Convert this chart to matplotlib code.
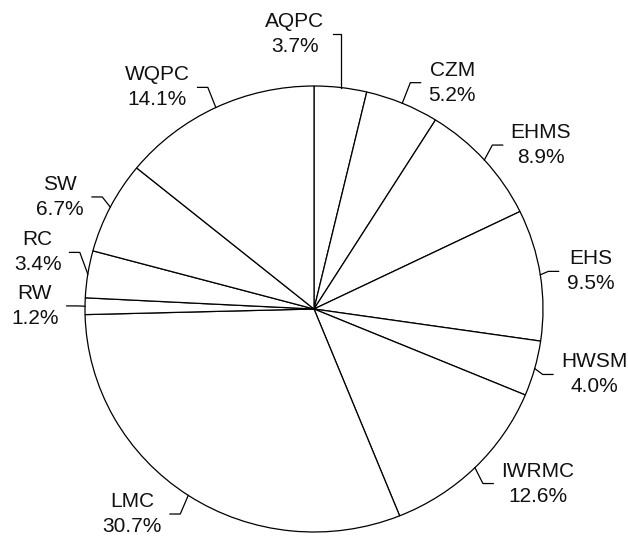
import numpy as np
import matplotlib
matplotlib.use("Agg")
import matplotlib.pyplot as plt

plt.rcParams['font.family'] = ['Liberation Sans', 'DejaVu Sans']

labels = ['AQPC', 'CZM', 'EHMS', 'EHS', 'HWSM', 'IWRMC', 'LMC', 'RW', 'RC', 'SW', 'WQPC']
shares = [3.7, 5.2, 8.9, 9.5, 4.0, 12.6, 30.7, 1.2, 3.4, 6.7, 14.1]

fig = plt.figure(figsize=(6.28, 5.38), dpi=100)
ax = fig.add_axes([0, 0, 1, 1])

wedges, _ = ax.pie(shares, startangle=90, counterclock=False,
                   colors=['white'] * len(shares),
                   wedgeprops=dict(edgecolor='black', linewidth=0.9))

# pie is a bit wider than tall in the original
ax.set_aspect('auto')
ax.set_xlim(-314 / 229, 314 / 229)
ax.set_ylim(-229 / 223, 309 / 223)
ax.axis('off')

tkw = dict(fontsize=15, linespacing=1.4, color='#111111', va='center',
           multialignment='center')
gap = 0.24
placed = []

for w, lab, v in zip(wedges, labels, shares):
    ang = np.deg2rad((w.theta1 + w.theta2) / 2)
    c, s = np.cos(ang), np.sin(ang)
    txt = f'{lab}\n{v:.1f}%'
    if abs(c) < 0.2:
        # label near the top: vertical leader, text set to the left
        y1 = 1.24 * s
        ax.plot([c, c, c - 0.035], [s, y1, y1], color='black', lw=0.9)
        ax.text(c - 0.07, y1, txt, ha='right', **tkw)
        continue
    sg = np.sign(c)
    ty = 1.1 * s
    # move away from labels already placed on the same side
    for psg, py in placed:
        if psg == sg and abs(ty - py) < gap:
            ty = py + gap if ty >= py else py - gap
    placed.append((sg, ty))
    xm = c + 0.035 * sg
    xe = c + 0.08 * sg
    ax.plot([c, xm, xe], [s, ty, ty], color='black', lw=0.9)
    ax.text(xe + 0.035 * sg, ty, txt, ha='left' if sg > 0 else 'right', **tkw)

fig.savefig('out.png', dpi=100)
